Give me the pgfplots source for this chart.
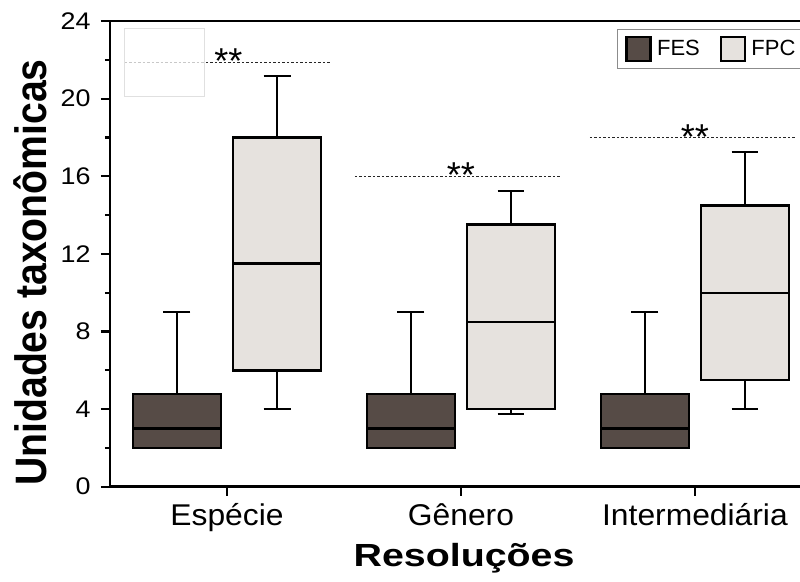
\documentclass[border=0pt]{standalone}
\usepackage{pgfplots}
\pgfplotsset{compat=1.18}
\usepgfplotslibrary{statistics}
\usetikzlibrary{calc}
\usepackage{fontspec}
\setmainfont{Liberation Sans}
\newfontfamily\ytickfont[FakeStretch=1.12]{Liberation Sans}
\newfontfamily\xtickfont[FakeStretch=1.06]{Liberation Sans}
\newfontfamily\xlabfont[FakeStretch=1.23]{Liberation Sans}
\newfontfamily\ylabfont[FakeStretch=0.89]{Liberation Sans}
\definecolor{fescol}{HTML}{564B46}
\definecolor{fpccol}{HTML}{E6E2DE}

\begin{document}
\begin{tikzpicture}
\begin{axis}[
  scale only axis, width=730pt, height=465.7pt,
  xmin=-0.5, xmax=2.62, ymin=0, ymax=24,
  xtick={0,1,2}, xticklabels={Espécie,Gênero,Intermediária},
  ytick={0,4,...,24}, minor ytick={2,6,...,22},
  tick pos=left, tick align=outside,
  major tick length=9pt, minor tick length=5pt,
  axis line style={line width=2.6pt},
  tick style={line width=2.2pt, black},
  /pgf/number format/assume math mode=true,
  yticklabel style={font=\ytickfont\fontsize{24}{24}\selectfont, xshift=-7pt},
  xticklabel style={font=\xtickfont\fontsize{30}{30}\selectfont, yshift=-4pt},
  xlabel={Resoluções}, ylabel={Unidades taxonômicas},
  xlabel style={font=\xlabfont\bfseries\fontsize{32}{32}\selectfont,
    at={(axis description cs:0.485,-0.1724)}, anchor=base},
  ylabel style={font=\ylabfont\bfseries\fontsize{44}{44}\selectfont,
    at={(axis description cs:-0.0863,0.46)}, anchor=base},
  legend style={at={(rel axis cs:0.6945,0.9828)}, anchor=north west,
    draw=black!45, line width=1pt, font=\fontsize{22}{22}\selectfont,
    inner xsep=8pt, inner ysep=6pt,
    /tikz/every odd column/.append style={column sep=3pt},
    /tikz/every even column/.append style={column sep=18pt}},
  legend columns=2,
  legend image code/.code={\draw[#1, line width=2.6pt] (0pt,-12pt) rectangle (24pt,12pt);},
  boxplot/draw direction=y,
  boxplot/box extend=0.376,
  boxplot/whisker extend=0.115,
  boxplot/every box/.style={line width=2.6pt},
  boxplot/every whisker/.style={line width=2.2pt},
  boxplot/every median/.style={line width=2.2pt},
]
\coordinate (o) at (rel axis cs:0,0);
\addlegendimage{fill=fescol, draw=black}\addlegendentry{FES}
\addlegendimage{fill=fpccol, draw=black}\addlegendentry{FPC}

% significance lines
\addplot[forget plot, black!85, line width=1pt, dash pattern=on 2.2pt off 2.3pt] coordinates {(-0.436,21.88) (0.44,21.88)};
\addplot[forget plot, black!85, line width=1pt, dash pattern=on 2.2pt off 2.3pt] coordinates {(0.547,16) (1.423,16)};
\addplot[forget plot, black!85, line width=1pt, dash pattern=on 2.2pt off 2.3pt] coordinates {(1.551,18) (2.427,18)};
\node[anchor=base, font=\fontsize{36}{36}\selectfont] at (axis cs:0.006,21.3) {**};
\node[anchor=base, font=\fontsize{36}{36}\selectfont] at (axis cs:1.0,15.4) {**};
\node[anchor=base, font=\fontsize{36}{36}\selectfont] at (axis cs:2.0,17.4) {**};
\fill[white, fill opacity=0.75, draw=black!12, draw opacity=1, line width=0.8pt]
  (axis cs:-0.44,20.09) rectangle (axis cs:-0.098,23.64);

% Espécie
\addplot[forget plot, fill=fescol, draw=black, line width=2.4pt, boxplot prepared={draw position=-0.214,
  lower whisker=2, lower quartile=2, median=3, upper quartile=4.78, upper whisker=9}] coordinates {};
\addplot[forget plot, fill=fpccol, draw=black, line width=2.4pt, boxplot prepared={draw position=0.214,
  lower whisker=4, lower quartile=6, median=11.5, upper quartile=18, upper whisker=21.15}] coordinates {};
% Gênero
\addplot[forget plot, fill=fescol, draw=black, line width=2.4pt, boxplot prepared={draw position=0.786,
  lower whisker=2, lower quartile=2, median=3, upper quartile=4.78, upper whisker=9}] coordinates {};
\addplot[forget plot, fill=fpccol, draw=black, line width=2.4pt, boxplot prepared={draw position=1.214,
  lower whisker=3.75, lower quartile=4, median=8.5, upper quartile=13.5, upper whisker=15.25}] coordinates {};
% Intermediária
\addplot[forget plot, fill=fescol, draw=black, line width=2.4pt, boxplot prepared={draw position=1.786,
  lower whisker=2, lower quartile=2, median=3, upper quartile=4.78, upper whisker=9}] coordinates {};
\addplot[forget plot, fill=fpccol, draw=black, line width=2.4pt, boxplot prepared={draw position=2.214,
  lower whisker=4, lower quartile=5.5, median=10, upper quartile=14.5, upper whisker=17.25}] coordinates {};
\end{axis}
\pgfresetboundingbox
\path[use as bounding box] ($(o)+(-110pt,-94.3pt)$) rectangle ($(o)+(690pt,486.7pt)$);
\end{tikzpicture}
\end{document}
